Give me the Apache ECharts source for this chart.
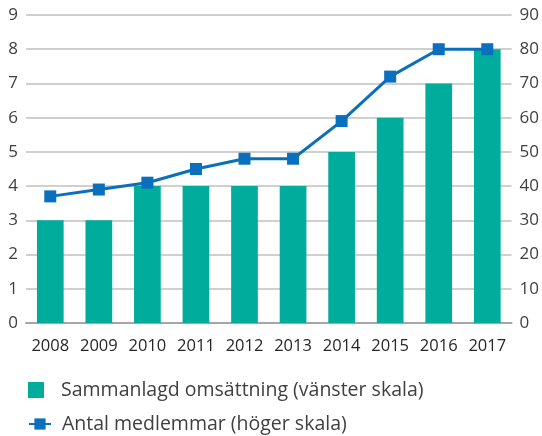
<!DOCTYPE html>
<html>
<head>
<meta charset="utf-8">
<script src="https://cdn.jsdelivr.net/npm/echarts@6/dist/echarts.min.js"></script>
<style>
  html, body { margin: 0; padding: 0; background: #fff; }
  #chart { width: 542px; height: 436px; }
</style>
</head>
<body>
<div id="chart"></div>
<script>
// data
const years = ['2008', '2009', '2010', '2011', '2012', '2013', '2014', '2015', '2016', '2017']
const omsattning = [3, 3, 4, 4, 4, 4, 5, 6, 7, 8]
const medlemmar = [37, 39, 41, 45, 48, 48, 59, 72, 80, 80]
const barName = 'Sammanlagd omsättning (vänster skala)'
const lineName = 'Antal medlemmar (höger skala)'

const font = '"Open Sans", "Noto Sans", sans-serif'
const chart = echarts.init(document.getElementById('chart'))

chart.setOption({
  animation: false,
  grid: { left: 26, right: 30, top: 15, bottom: 113 },
  legend: [
    {
      data: [{ name: barName, icon: 'rect' }],
      left: 23, top: 375,
      itemWidth: 16, itemHeight: 16,
      textStyle: { fontFamily: font, fontSize: 19.5, color: '#404040', padding: [0, 0, 0, 12] }
    },
    {
      data: [lineName],
      left: 23, top: 409,
      itemWidth: 22, itemHeight: 14,
      textStyle: { fontFamily: font, fontSize: 19.5, color: '#404040', padding: [0, 0, 0, 6] }
    }
  ],
  xAxis: {
    type: 'category',
    data: years,
    axisTick: { show: false },
    axisLine: { lineStyle: { color: '#a6a6a6', width: 2 } },
    axisLabel: { interval: 0, fontFamily: font, fontSize: 16.5, color: '#262626', margin: 15 }
  },
  yAxis: [
    {
      type: 'value', min: 0, max: 9, interval: 1,
      axisLabel: { fontFamily: font, fontSize: 17, color: '#404040', margin: 8 },
      splitLine: { lineStyle: { color: '#c0c0c0', width: 1.5 } }
    },
    {
      type: 'value', min: 0, max: 90, interval: 10,
      axisLabel: { fontFamily: font, fontSize: 17, color: '#404040', margin: 8 },
      splitLine: { show: false }
    }
  ],
  series: [
    {
      name: barName,
      type: 'bar',
      data: omsattning,
      barWidth: '55%',
      itemStyle: { color: '#00ac9c' }
    },
    {
      name: lineName,
      type: 'line',
      yAxisIndex: 1,
      data: medlemmar,
      symbol: 'rect',
      symbolSize: 12,
      lineStyle: { color: '#0a6fbd', width: 3 },
      itemStyle: { color: '#0a6fbd' }
    }
  ]
})
</script>
</body>
</html>
